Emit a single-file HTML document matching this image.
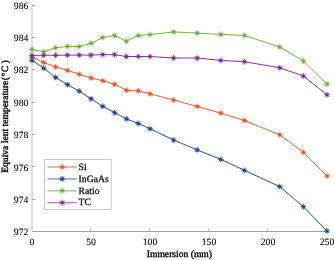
<!DOCTYPE html>
<html><head><meta charset="utf-8"><style>
html,body{margin:0;padding:0;background:#fff;}
body{width:335px;height:260px;overflow:hidden;}
svg{display:block;will-change:transform;}
text{font-family:"Liberation Serif",serif;font-size:9.7px;fill:#000;text-rendering:geometricPrecision;stroke:#000;stroke-width:0.25px;}
.t{font-size:9.6px;stroke-width:0.35px;}
.n{stroke-width:0.08px;}
</style></head><body>
<svg width="335" height="260" viewBox="0 0 335 260">
<rect width="335" height="260" fill="#fff"/>
<line x1="32" y1="4.2" x2="32" y2="231" stroke="#dcdcdc" stroke-width="1.8"/>
<line x1="32" y1="5.50" x2="35" y2="5.50" stroke="#a0a0a0" stroke-width="1"/><line x1="32" y1="37.50" x2="35" y2="37.50" stroke="#a0a0a0" stroke-width="1"/><line x1="32" y1="69.50" x2="35" y2="69.50" stroke="#a0a0a0" stroke-width="1"/><line x1="32" y1="102.50" x2="35" y2="102.50" stroke="#a0a0a0" stroke-width="1"/><line x1="32" y1="134.50" x2="35" y2="134.50" stroke="#a0a0a0" stroke-width="1"/><line x1="32" y1="166.50" x2="35" y2="166.50" stroke="#a0a0a0" stroke-width="1"/><line x1="32" y1="199.50" x2="35" y2="199.50" stroke="#a0a0a0" stroke-width="1"/><line x1="32" y1="231.50" x2="35" y2="231.50" stroke="#a0a0a0" stroke-width="1"/>
<line x1="32" y1="231.5" x2="327.5" y2="231.5" stroke="#a0a0a0" stroke-width="1"/>
<line x1="90.60" y1="228" x2="90.60" y2="231" stroke="#c8c8c8" stroke-width="1.2"/><line x1="149.60" y1="228" x2="149.60" y2="231" stroke="#c8c8c8" stroke-width="1.2"/><line x1="208.60" y1="228" x2="208.60" y2="231" stroke="#c8c8c8" stroke-width="1.2"/><line x1="267.60" y1="228" x2="267.60" y2="231" stroke="#c8c8c8" stroke-width="1.2"/><line x1="326.60" y1="228" x2="326.60" y2="231" stroke="#c8c8c8" stroke-width="1.2"/>
<text x="28.4" y="9.4" text-anchor="end" class="n">986</text><text x="28.4" y="40.8" text-anchor="end" class="n">984</text><text x="28.4" y="73.2" text-anchor="end" class="n">982</text><text x="28.4" y="106.4" text-anchor="end" class="n">980</text><text x="28.4" y="137.8" text-anchor="end" class="n">978</text><text x="28.4" y="171.0" text-anchor="end" class="n">976</text><text x="28.4" y="203.4" text-anchor="end" class="n">974</text><text x="28.4" y="234.8" text-anchor="end" class="n">972</text>
<text x="32.0" y="244.8" text-anchor="middle" class="n">0</text><text x="91.0" y="244.8" text-anchor="middle" class="n">50</text><text x="150.0" y="244.8" text-anchor="middle" class="n">100</text><text x="209.0" y="244.8" text-anchor="middle" class="n">150</text><text x="268.0" y="244.8" text-anchor="middle" class="n">200</text><text x="327.0" y="244.8" text-anchor="middle" class="n">250</text>
<text class="t" x="179.4" y="257.0" text-anchor="middle">Immersion (mm)</text>
<text class="t" transform="translate(8.2,172.8) rotate(-90)">Equiva lent temperature<tspan dx="0.5">(</tspan><tspan dx="0.4">°</tspan><tspan dx="0.6">C</tspan><tspan dx="2.2">)</tspan></text>
<polyline points="32.0,56.9 43.8,62.6 55.6,66.9 67.4,70.4 79.2,74.3 91.0,77.9 102.8,80.8 114.6,84.3 126.4,90.2 138.2,90.8 150.0,93.8 173.6,100.0 197.2,106.5 220.8,113.1 244.4,120.5 279.8,134.8 303.4,152.3 327.0,176.0" fill="none" stroke="#e35a21" stroke-width="0.95" stroke-linejoin="round"/><path d="M32.00,54.00L32.00,59.80M29.10,56.90L34.90,56.90M29.91,54.81L34.09,58.99M29.91,58.99L34.09,54.81" stroke="#e35a21" stroke-width="0.85"/><circle cx="32.00" cy="56.90" r="1.5" fill="#e35a21"/><path d="M43.80,59.70L43.80,65.50M40.90,62.60L46.70,62.60M41.71,60.51L45.89,64.69M41.71,64.69L45.89,60.51" stroke="#e35a21" stroke-width="0.85"/><circle cx="43.80" cy="62.60" r="1.5" fill="#e35a21"/><path d="M55.60,64.00L55.60,69.80M52.70,66.90L58.50,66.90M53.51,64.81L57.69,68.99M53.51,68.99L57.69,64.81" stroke="#e35a21" stroke-width="0.85"/><circle cx="55.60" cy="66.90" r="1.5" fill="#e35a21"/><path d="M67.40,67.50L67.40,73.30M64.50,70.40L70.30,70.40M65.31,68.31L69.49,72.49M65.31,72.49L69.49,68.31" stroke="#e35a21" stroke-width="0.85"/><circle cx="67.40" cy="70.40" r="1.5" fill="#e35a21"/><path d="M79.20,71.40L79.20,77.20M76.30,74.30L82.10,74.30M77.11,72.21L81.29,76.39M77.11,76.39L81.29,72.21" stroke="#e35a21" stroke-width="0.85"/><circle cx="79.20" cy="74.30" r="1.5" fill="#e35a21"/><path d="M91.00,75.00L91.00,80.80M88.10,77.90L93.90,77.90M88.91,75.81L93.09,79.99M88.91,79.99L93.09,75.81" stroke="#e35a21" stroke-width="0.85"/><circle cx="91.00" cy="77.90" r="1.5" fill="#e35a21"/><path d="M102.80,77.90L102.80,83.70M99.90,80.80L105.70,80.80M100.71,78.71L104.89,82.89M100.71,82.89L104.89,78.71" stroke="#e35a21" stroke-width="0.85"/><circle cx="102.80" cy="80.80" r="1.5" fill="#e35a21"/><path d="M114.60,81.40L114.60,87.20M111.70,84.30L117.50,84.30M112.51,82.21L116.69,86.39M112.51,86.39L116.69,82.21" stroke="#e35a21" stroke-width="0.85"/><circle cx="114.60" cy="84.30" r="1.5" fill="#e35a21"/><path d="M126.40,87.30L126.40,93.10M123.50,90.20L129.30,90.20M124.31,88.11L128.49,92.29M124.31,92.29L128.49,88.11" stroke="#e35a21" stroke-width="0.85"/><circle cx="126.40" cy="90.20" r="1.5" fill="#e35a21"/><path d="M138.20,87.90L138.20,93.70M135.30,90.80L141.10,90.80M136.11,88.71L140.29,92.89M136.11,92.89L140.29,88.71" stroke="#e35a21" stroke-width="0.85"/><circle cx="138.20" cy="90.80" r="1.5" fill="#e35a21"/><path d="M150.00,90.90L150.00,96.70M147.10,93.80L152.90,93.80M147.91,91.71L152.09,95.89M147.91,95.89L152.09,91.71" stroke="#e35a21" stroke-width="0.85"/><circle cx="150.00" cy="93.80" r="1.5" fill="#e35a21"/><path d="M173.60,97.10L173.60,102.90M170.70,100.00L176.50,100.00M171.51,97.91L175.69,102.09M171.51,102.09L175.69,97.91" stroke="#e35a21" stroke-width="0.85"/><circle cx="173.60" cy="100.00" r="1.5" fill="#e35a21"/><path d="M197.20,103.60L197.20,109.40M194.30,106.50L200.10,106.50M195.11,104.41L199.29,108.59M195.11,108.59L199.29,104.41" stroke="#e35a21" stroke-width="0.85"/><circle cx="197.20" cy="106.50" r="1.5" fill="#e35a21"/><path d="M220.80,110.20L220.80,116.00M217.90,113.10L223.70,113.10M218.71,111.01L222.89,115.19M218.71,115.19L222.89,111.01" stroke="#e35a21" stroke-width="0.85"/><circle cx="220.80" cy="113.10" r="1.5" fill="#e35a21"/><path d="M244.40,117.60L244.40,123.40M241.50,120.50L247.30,120.50M242.31,118.41L246.49,122.59M242.31,122.59L246.49,118.41" stroke="#e35a21" stroke-width="0.85"/><circle cx="244.40" cy="120.50" r="1.5" fill="#e35a21"/><path d="M279.80,131.90L279.80,137.70M276.90,134.80L282.70,134.80M277.71,132.71L281.89,136.89M277.71,136.89L281.89,132.71" stroke="#e35a21" stroke-width="0.85"/><circle cx="279.80" cy="134.80" r="1.5" fill="#e35a21"/><path d="M303.40,149.40L303.40,155.20M300.50,152.30L306.30,152.30M301.31,150.21L305.49,154.39M301.31,154.39L305.49,150.21" stroke="#e35a21" stroke-width="0.85"/><circle cx="303.40" cy="152.30" r="1.5" fill="#e35a21"/><path d="M327.00,173.10L327.00,178.90M324.10,176.00L329.90,176.00M324.91,173.91L329.09,178.09M324.91,178.09L329.09,173.91" stroke="#e35a21" stroke-width="0.85"/><circle cx="327.00" cy="176.00" r="1.5" fill="#e35a21"/>
<polyline points="32.0,60.3 43.8,68.2 55.6,77.4 67.4,84.6 79.2,91.1 91.0,98.8 102.8,106.3 114.6,112.7 126.4,118.9 138.2,123.4 150.0,128.8 173.6,140.0 197.2,149.9 220.8,159.4 244.4,170.3 279.8,186.7 303.4,206.8 327.0,231.0" fill="none" stroke="#1b4592" stroke-width="0.95" stroke-linejoin="round"/><path d="M32.00,57.40L32.00,63.20M29.10,60.30L34.90,60.30M29.91,58.21L34.09,62.39M29.91,62.39L34.09,58.21" stroke="#1b4592" stroke-width="0.85"/><circle cx="32.00" cy="60.30" r="1.5" fill="#1b4592"/><path d="M43.80,65.30L43.80,71.10M40.90,68.20L46.70,68.20M41.71,66.11L45.89,70.29M41.71,70.29L45.89,66.11" stroke="#1b4592" stroke-width="0.85"/><circle cx="43.80" cy="68.20" r="1.5" fill="#1b4592"/><path d="M55.60,74.50L55.60,80.30M52.70,77.40L58.50,77.40M53.51,75.31L57.69,79.49M53.51,79.49L57.69,75.31" stroke="#1b4592" stroke-width="0.85"/><circle cx="55.60" cy="77.40" r="1.5" fill="#1b4592"/><path d="M67.40,81.70L67.40,87.50M64.50,84.60L70.30,84.60M65.31,82.51L69.49,86.69M65.31,86.69L69.49,82.51" stroke="#1b4592" stroke-width="0.85"/><circle cx="67.40" cy="84.60" r="1.5" fill="#1b4592"/><path d="M79.20,88.20L79.20,94.00M76.30,91.10L82.10,91.10M77.11,89.01L81.29,93.19M77.11,93.19L81.29,89.01" stroke="#1b4592" stroke-width="0.85"/><circle cx="79.20" cy="91.10" r="1.5" fill="#1b4592"/><path d="M91.00,95.90L91.00,101.70M88.10,98.80L93.90,98.80M88.91,96.71L93.09,100.89M88.91,100.89L93.09,96.71" stroke="#1b4592" stroke-width="0.85"/><circle cx="91.00" cy="98.80" r="1.5" fill="#1b4592"/><path d="M102.80,103.40L102.80,109.20M99.90,106.30L105.70,106.30M100.71,104.21L104.89,108.39M100.71,108.39L104.89,104.21" stroke="#1b4592" stroke-width="0.85"/><circle cx="102.80" cy="106.30" r="1.5" fill="#1b4592"/><path d="M114.60,109.80L114.60,115.60M111.70,112.70L117.50,112.70M112.51,110.61L116.69,114.79M112.51,114.79L116.69,110.61" stroke="#1b4592" stroke-width="0.85"/><circle cx="114.60" cy="112.70" r="1.5" fill="#1b4592"/><path d="M126.40,116.00L126.40,121.80M123.50,118.90L129.30,118.90M124.31,116.81L128.49,120.99M124.31,120.99L128.49,116.81" stroke="#1b4592" stroke-width="0.85"/><circle cx="126.40" cy="118.90" r="1.5" fill="#1b4592"/><path d="M138.20,120.50L138.20,126.30M135.30,123.40L141.10,123.40M136.11,121.31L140.29,125.49M136.11,125.49L140.29,121.31" stroke="#1b4592" stroke-width="0.85"/><circle cx="138.20" cy="123.40" r="1.5" fill="#1b4592"/><path d="M150.00,125.90L150.00,131.70M147.10,128.80L152.90,128.80M147.91,126.71L152.09,130.89M147.91,130.89L152.09,126.71" stroke="#1b4592" stroke-width="0.85"/><circle cx="150.00" cy="128.80" r="1.5" fill="#1b4592"/><path d="M173.60,137.10L173.60,142.90M170.70,140.00L176.50,140.00M171.51,137.91L175.69,142.09M171.51,142.09L175.69,137.91" stroke="#1b4592" stroke-width="0.85"/><circle cx="173.60" cy="140.00" r="1.5" fill="#1b4592"/><path d="M197.20,147.00L197.20,152.80M194.30,149.90L200.10,149.90M195.11,147.81L199.29,151.99M195.11,151.99L199.29,147.81" stroke="#1b4592" stroke-width="0.85"/><circle cx="197.20" cy="149.90" r="1.5" fill="#1b4592"/><path d="M220.80,156.50L220.80,162.30M217.90,159.40L223.70,159.40M218.71,157.31L222.89,161.49M218.71,161.49L222.89,157.31" stroke="#1b4592" stroke-width="0.85"/><circle cx="220.80" cy="159.40" r="1.5" fill="#1b4592"/><path d="M244.40,167.40L244.40,173.20M241.50,170.30L247.30,170.30M242.31,168.21L246.49,172.39M242.31,172.39L246.49,168.21" stroke="#1b4592" stroke-width="0.85"/><circle cx="244.40" cy="170.30" r="1.5" fill="#1b4592"/><path d="M279.80,183.80L279.80,189.60M276.90,186.70L282.70,186.70M277.71,184.61L281.89,188.79M277.71,188.79L281.89,184.61" stroke="#1b4592" stroke-width="0.85"/><circle cx="279.80" cy="186.70" r="1.5" fill="#1b4592"/><path d="M303.40,203.90L303.40,209.70M300.50,206.80L306.30,206.80M301.31,204.71L305.49,208.89M301.31,208.89L305.49,204.71" stroke="#1b4592" stroke-width="0.85"/><circle cx="303.40" cy="206.80" r="1.5" fill="#1b4592"/><path d="M327.00,228.10L327.00,233.90M324.10,231.00L329.90,231.00M324.91,228.91L329.09,233.09M324.91,233.09L329.09,228.91" stroke="#1b4592" stroke-width="0.85"/><circle cx="327.00" cy="231.00" r="1.5" fill="#1b4592"/>
<polyline points="32.0,49.5 43.8,51.8 55.6,47.7 67.4,46.5 79.2,46.5 91.0,43.3 102.8,37.5 114.6,35.5 126.4,41.2 138.2,35.4 150.0,34.6 173.6,31.9 197.2,33.1 220.8,34.4 244.4,35.4 279.8,47.1 303.4,61.0 327.0,84.0" fill="none" stroke="#6fad3e" stroke-width="0.95" stroke-linejoin="round"/><path d="M32.00,46.60L32.00,52.40M29.10,49.50L34.90,49.50M29.91,47.41L34.09,51.59M29.91,51.59L34.09,47.41" stroke="#6fad3e" stroke-width="0.85"/><circle cx="32.00" cy="49.50" r="1.5" fill="#6fad3e"/><path d="M43.80,48.90L43.80,54.70M40.90,51.80L46.70,51.80M41.71,49.71L45.89,53.89M41.71,53.89L45.89,49.71" stroke="#6fad3e" stroke-width="0.85"/><circle cx="43.80" cy="51.80" r="1.5" fill="#6fad3e"/><path d="M55.60,44.80L55.60,50.60M52.70,47.70L58.50,47.70M53.51,45.61L57.69,49.79M53.51,49.79L57.69,45.61" stroke="#6fad3e" stroke-width="0.85"/><circle cx="55.60" cy="47.70" r="1.5" fill="#6fad3e"/><path d="M67.40,43.60L67.40,49.40M64.50,46.50L70.30,46.50M65.31,44.41L69.49,48.59M65.31,48.59L69.49,44.41" stroke="#6fad3e" stroke-width="0.85"/><circle cx="67.40" cy="46.50" r="1.5" fill="#6fad3e"/><path d="M79.20,43.60L79.20,49.40M76.30,46.50L82.10,46.50M77.11,44.41L81.29,48.59M77.11,48.59L81.29,44.41" stroke="#6fad3e" stroke-width="0.85"/><circle cx="79.20" cy="46.50" r="1.5" fill="#6fad3e"/><path d="M91.00,40.40L91.00,46.20M88.10,43.30L93.90,43.30M88.91,41.21L93.09,45.39M88.91,45.39L93.09,41.21" stroke="#6fad3e" stroke-width="0.85"/><circle cx="91.00" cy="43.30" r="1.5" fill="#6fad3e"/><path d="M102.80,34.60L102.80,40.40M99.90,37.50L105.70,37.50M100.71,35.41L104.89,39.59M100.71,39.59L104.89,35.41" stroke="#6fad3e" stroke-width="0.85"/><circle cx="102.80" cy="37.50" r="1.5" fill="#6fad3e"/><path d="M114.60,32.60L114.60,38.40M111.70,35.50L117.50,35.50M112.51,33.41L116.69,37.59M112.51,37.59L116.69,33.41" stroke="#6fad3e" stroke-width="0.85"/><circle cx="114.60" cy="35.50" r="1.5" fill="#6fad3e"/><path d="M126.40,38.30L126.40,44.10M123.50,41.20L129.30,41.20M124.31,39.11L128.49,43.29M124.31,43.29L128.49,39.11" stroke="#6fad3e" stroke-width="0.85"/><circle cx="126.40" cy="41.20" r="1.5" fill="#6fad3e"/><path d="M138.20,32.50L138.20,38.30M135.30,35.40L141.10,35.40M136.11,33.31L140.29,37.49M136.11,37.49L140.29,33.31" stroke="#6fad3e" stroke-width="0.85"/><circle cx="138.20" cy="35.40" r="1.5" fill="#6fad3e"/><path d="M150.00,31.70L150.00,37.50M147.10,34.60L152.90,34.60M147.91,32.51L152.09,36.69M147.91,36.69L152.09,32.51" stroke="#6fad3e" stroke-width="0.85"/><circle cx="150.00" cy="34.60" r="1.5" fill="#6fad3e"/><path d="M173.60,29.00L173.60,34.80M170.70,31.90L176.50,31.90M171.51,29.81L175.69,33.99M171.51,33.99L175.69,29.81" stroke="#6fad3e" stroke-width="0.85"/><circle cx="173.60" cy="31.90" r="1.5" fill="#6fad3e"/><path d="M197.20,30.20L197.20,36.00M194.30,33.10L200.10,33.10M195.11,31.01L199.29,35.19M195.11,35.19L199.29,31.01" stroke="#6fad3e" stroke-width="0.85"/><circle cx="197.20" cy="33.10" r="1.5" fill="#6fad3e"/><path d="M220.80,31.50L220.80,37.30M217.90,34.40L223.70,34.40M218.71,32.31L222.89,36.49M218.71,36.49L222.89,32.31" stroke="#6fad3e" stroke-width="0.85"/><circle cx="220.80" cy="34.40" r="1.5" fill="#6fad3e"/><path d="M244.40,32.50L244.40,38.30M241.50,35.40L247.30,35.40M242.31,33.31L246.49,37.49M242.31,37.49L246.49,33.31" stroke="#6fad3e" stroke-width="0.85"/><circle cx="244.40" cy="35.40" r="1.5" fill="#6fad3e"/><path d="M279.80,44.20L279.80,50.00M276.90,47.10L282.70,47.10M277.71,45.01L281.89,49.19M277.71,49.19L281.89,45.01" stroke="#6fad3e" stroke-width="0.85"/><circle cx="279.80" cy="47.10" r="1.5" fill="#6fad3e"/><path d="M303.40,58.10L303.40,63.90M300.50,61.00L306.30,61.00M301.31,58.91L305.49,63.09M301.31,63.09L305.49,58.91" stroke="#6fad3e" stroke-width="0.85"/><circle cx="303.40" cy="61.00" r="1.5" fill="#6fad3e"/><path d="M327.00,81.10L327.00,86.90M324.10,84.00L329.90,84.00M324.91,81.91L329.09,86.09M324.91,86.09L329.09,81.91" stroke="#6fad3e" stroke-width="0.85"/><circle cx="327.00" cy="84.00" r="1.5" fill="#6fad3e"/>
<polyline points="32.0,55.4 43.8,55.3 55.6,55.3 67.4,55.1 79.2,55.1 91.0,55.1 102.8,54.6 114.6,54.7 126.4,56.5 138.2,56.5 150.0,56.5 173.6,58.0 197.2,58.0 220.8,60.4 244.4,61.7 279.8,67.8 303.4,76.0 327.0,94.8" fill="none" stroke="#772d9c" stroke-width="0.95" stroke-linejoin="round"/><path d="M32.00,52.50L32.00,58.30M29.10,55.40L34.90,55.40M29.91,53.31L34.09,57.49M29.91,57.49L34.09,53.31" stroke="#772d9c" stroke-width="0.85"/><circle cx="32.00" cy="55.40" r="1.5" fill="#772d9c"/><path d="M43.80,52.40L43.80,58.20M40.90,55.30L46.70,55.30M41.71,53.21L45.89,57.39M41.71,57.39L45.89,53.21" stroke="#772d9c" stroke-width="0.85"/><circle cx="43.80" cy="55.30" r="1.5" fill="#772d9c"/><path d="M55.60,52.40L55.60,58.20M52.70,55.30L58.50,55.30M53.51,53.21L57.69,57.39M53.51,57.39L57.69,53.21" stroke="#772d9c" stroke-width="0.85"/><circle cx="55.60" cy="55.30" r="1.5" fill="#772d9c"/><path d="M67.40,52.20L67.40,58.00M64.50,55.10L70.30,55.10M65.31,53.01L69.49,57.19M65.31,57.19L69.49,53.01" stroke="#772d9c" stroke-width="0.85"/><circle cx="67.40" cy="55.10" r="1.5" fill="#772d9c"/><path d="M79.20,52.20L79.20,58.00M76.30,55.10L82.10,55.10M77.11,53.01L81.29,57.19M77.11,57.19L81.29,53.01" stroke="#772d9c" stroke-width="0.85"/><circle cx="79.20" cy="55.10" r="1.5" fill="#772d9c"/><path d="M91.00,52.20L91.00,58.00M88.10,55.10L93.90,55.10M88.91,53.01L93.09,57.19M88.91,57.19L93.09,53.01" stroke="#772d9c" stroke-width="0.85"/><circle cx="91.00" cy="55.10" r="1.5" fill="#772d9c"/><path d="M102.80,51.70L102.80,57.50M99.90,54.60L105.70,54.60M100.71,52.51L104.89,56.69M100.71,56.69L104.89,52.51" stroke="#772d9c" stroke-width="0.85"/><circle cx="102.80" cy="54.60" r="1.5" fill="#772d9c"/><path d="M114.60,51.80L114.60,57.60M111.70,54.70L117.50,54.70M112.51,52.61L116.69,56.79M112.51,56.79L116.69,52.61" stroke="#772d9c" stroke-width="0.85"/><circle cx="114.60" cy="54.70" r="1.5" fill="#772d9c"/><path d="M126.40,53.60L126.40,59.40M123.50,56.50L129.30,56.50M124.31,54.41L128.49,58.59M124.31,58.59L128.49,54.41" stroke="#772d9c" stroke-width="0.85"/><circle cx="126.40" cy="56.50" r="1.5" fill="#772d9c"/><path d="M138.20,53.60L138.20,59.40M135.30,56.50L141.10,56.50M136.11,54.41L140.29,58.59M136.11,58.59L140.29,54.41" stroke="#772d9c" stroke-width="0.85"/><circle cx="138.20" cy="56.50" r="1.5" fill="#772d9c"/><path d="M150.00,53.60L150.00,59.40M147.10,56.50L152.90,56.50M147.91,54.41L152.09,58.59M147.91,58.59L152.09,54.41" stroke="#772d9c" stroke-width="0.85"/><circle cx="150.00" cy="56.50" r="1.5" fill="#772d9c"/><path d="M173.60,55.10L173.60,60.90M170.70,58.00L176.50,58.00M171.51,55.91L175.69,60.09M171.51,60.09L175.69,55.91" stroke="#772d9c" stroke-width="0.85"/><circle cx="173.60" cy="58.00" r="1.5" fill="#772d9c"/><path d="M197.20,55.10L197.20,60.90M194.30,58.00L200.10,58.00M195.11,55.91L199.29,60.09M195.11,60.09L199.29,55.91" stroke="#772d9c" stroke-width="0.85"/><circle cx="197.20" cy="58.00" r="1.5" fill="#772d9c"/><path d="M220.80,57.50L220.80,63.30M217.90,60.40L223.70,60.40M218.71,58.31L222.89,62.49M218.71,62.49L222.89,58.31" stroke="#772d9c" stroke-width="0.85"/><circle cx="220.80" cy="60.40" r="1.5" fill="#772d9c"/><path d="M244.40,58.80L244.40,64.60M241.50,61.70L247.30,61.70M242.31,59.61L246.49,63.79M242.31,63.79L246.49,59.61" stroke="#772d9c" stroke-width="0.85"/><circle cx="244.40" cy="61.70" r="1.5" fill="#772d9c"/><path d="M279.80,64.90L279.80,70.70M276.90,67.80L282.70,67.80M277.71,65.71L281.89,69.89M277.71,69.89L281.89,65.71" stroke="#772d9c" stroke-width="0.85"/><circle cx="279.80" cy="67.80" r="1.5" fill="#772d9c"/><path d="M303.40,73.10L303.40,78.90M300.50,76.00L306.30,76.00M301.31,73.91L305.49,78.09M301.31,78.09L305.49,73.91" stroke="#772d9c" stroke-width="0.85"/><circle cx="303.40" cy="76.00" r="1.5" fill="#772d9c"/><path d="M327.00,91.90L327.00,97.70M324.10,94.80L329.90,94.80M324.91,92.71L329.09,96.89M324.91,96.89L329.09,92.71" stroke="#772d9c" stroke-width="0.85"/><circle cx="327.00" cy="94.80" r="1.5" fill="#772d9c"/>
<rect x="44.5" y="159.5" width="66.8" height="50" fill="#fff" stroke="#c8c8c8" stroke-width="1"/><line x1="47.4" y1="167.0" x2="76.7" y2="167.0" stroke="#e35a21" stroke-opacity="0.6" stroke-width="1.5"/><path d="M62.20,164.00L62.20,170.00M59.20,167.00L65.20,167.00M60.04,164.84L64.36,169.16M60.04,169.16L64.36,164.84" stroke="#e35a21" stroke-width="0.85"/><circle cx="62.20" cy="167.00" r="1.5" fill="#e35a21"/><text x="78.6" y="170.1">Si</text><line x1="47.4" y1="178.9" x2="76.7" y2="178.9" stroke="#405f9e" stroke-opacity="0.6" stroke-width="1.5"/><path d="M62.20,175.88L62.20,181.88M59.20,178.88L65.20,178.88M60.04,176.72L64.36,181.04M60.04,181.04L64.36,176.72" stroke="#1b4592" stroke-width="0.85"/><circle cx="62.20" cy="178.88" r="1.5" fill="#1b4592"/><text x="78.6" y="182.3">InGaAs</text><line x1="47.4" y1="190.8" x2="76.7" y2="190.8" stroke="#6fad3e" stroke-opacity="0.6" stroke-width="1.5"/><path d="M62.20,187.76L62.20,193.76M59.20,190.76L65.20,190.76M60.04,188.60L64.36,192.92M60.04,192.92L64.36,188.60" stroke="#6fad3e" stroke-width="0.85"/><circle cx="62.20" cy="190.76" r="1.5" fill="#6fad3e"/><text x="78.6" y="193.5">Ratio</text><line x1="47.4" y1="202.6" x2="76.7" y2="202.6" stroke="#772d9c" stroke-opacity="0.6" stroke-width="1.5"/><path d="M62.20,199.64L62.20,205.64M59.20,202.64L65.20,202.64M60.04,200.48L64.36,204.80M60.04,204.80L64.36,200.48" stroke="#772d9c" stroke-width="0.85"/><circle cx="62.20" cy="202.64" r="1.5" fill="#772d9c"/><text x="78.6" y="204.9">TC</text>
</svg>
</body></html>
